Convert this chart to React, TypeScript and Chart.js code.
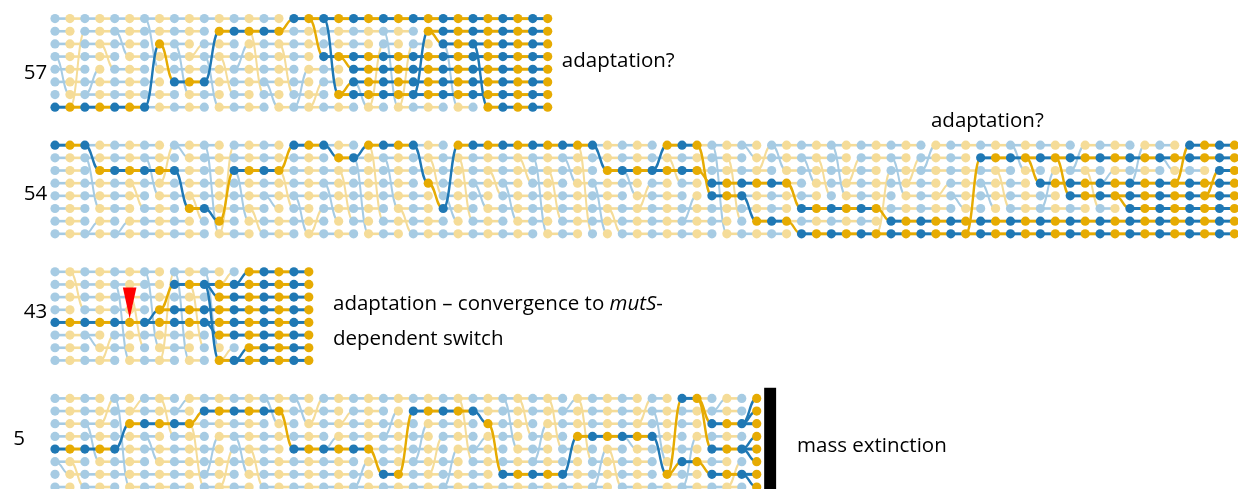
import { useEffect, useRef } from "react";
import { Chart, registerables } from "chart.js";

Chart.register(...registerables);

// ---------------- data ----------------
// Panels from top to bottom. Each panel: 8 individuals (rows) over successive generations (columns).
const panelLabels = ["57", "54", "43", "5"];
const panelColumns = [34, 80, 18, 48];

// dark (surviving) lineage runs: [row, firstCol, lastCol]
// dark lineage jumps: [col, parentRow (in col-1), childRow]
// faded lineage jumps: [col, parentRow, childRow]
const darkRuns57 = [[7, 0, 6], [2, 7, 7], [5, 8, 10], [1, 11, 15], [0, 16, 33], [3, 18, 33], [6, 19, 33], [4, 20, 33], [5, 20, 33], [1, 25, 33], [2, 26, 33], [7, 29, 33]];
const darkJumps57 = [[7, 7, 2], [8, 2, 5], [11, 5, 1], [16, 1, 0], [18, 0, 3], [19, 0, 6], [20, 3, 4], [20, 6, 5], [25, 6, 1], [26, 1, 2], [29, 2, 7]];
const lightJumps57 = [[1, 3, 6], [2, 7, 1], [3, 6, 4], [4, 2, 4], [5, 1, 3], [6, 2, 7], [7, 0, 4], [9, 2, 6], [10, 3, 2], [11, 3, 7], [12, 3, 6], [13, 4, 2], [14, 1, 6], [15, 5, 7], [16, 2, 6], [17, 7, 4], [18, 7, 5], [21, 5, 7], [22, 7, 2], [23, 1, 7], [24, 7, 2], [27, 2, 7]];

const darkRuns54 = [[0, 0, 2], [2, 3, 8], [5, 9, 10], [6, 11, 11], [2, 12, 15], [0, 16, 18], [1, 19, 20], [0, 21, 24], [3, 25, 25], [5, 26, 26], [0, 27, 36], [2, 37, 43], [0, 41, 43], [3, 44, 49], [4, 44, 46], [6, 47, 49], [5, 50, 55], [7, 50, 79], [6, 56, 79], [1, 62, 79], [3, 66, 79], [4, 68, 79], [5, 72, 79], [0, 76, 79], [2, 78, 79]];
const darkJumps54 = [[3, 0, 2], [9, 2, 5], [11, 5, 6], [12, 6, 2], [16, 2, 0], [19, 0, 1], [21, 1, 0], [25, 0, 3], [26, 3, 5], [27, 5, 0], [37, 0, 2], [41, 2, 0], [44, 2, 3], [44, 0, 4], [47, 4, 6], [50, 3, 5], [50, 6, 7], [56, 5, 6], [62, 7, 1], [66, 1, 3], [68, 1, 4], [72, 4, 5], [76, 3, 0], [78, 4, 2]];
const lightJumps54 = [[3, 1, 5], [3, 7, 6], [5, 7, 6], [6, 3, 5], [7, 1, 4], [8, 3, 0], [9, 0, 1], [10, 4, 6], [11, 0, 7], [12, 7, 0], [13, 2, 6], [14, 5, 7], [15, 4, 5], [16, 2, 5], [17, 4, 7], [18, 7, 5], [19, 3, 6], [20, 2, 6], [21, 1, 7], [22, 0, 6], [23, 1, 5], [24, 5, 7], [26, 1, 4], [27, 4, 6], [28, 1, 6], [29, 3, 5], [30, 2, 4], [31, 3, 6], [32, 1, 3], [33, 1, 7], [34, 2, 6], [35, 1, 3], [36, 0, 7], [37, 3, 7], [38, 5, 7], [39, 2, 4], [40, 5, 3], [42, 1, 3], [43, 6, 4], [45, 0, 7], [46, 1, 6], [47, 0, 1], [48, 2, 0], [49, 0, 2], [51, 1, 3], [52, 1, 4], [53, 0, 4], [54, 3, 1], [55, 2, 5], [56, 7, 2], [57, 1, 4], [58, 3, 1], [59, 2, 0], [60, 4, 3], [61, 4, 5], [63, 3, 5], [64, 2, 5], [65, 0, 2], [67, 5, 2], [69, 2, 0], [70, 2, 5], [71, 3, 2], [73, 3, 0], [75, 1, 2]];

const darkRuns43 = [[4, 0, 17], [3, 7, 17], [1, 8, 17], [2, 11, 17], [5, 11, 17], [7, 11, 17], [0, 13, 17], [6, 13, 17]];
const darkJumps43 = [[7, 4, 3], [8, 3, 1], [11, 1, 2], [11, 4, 5], [11, 1, 7], [13, 1, 0], [13, 7, 6]];
const lightJumps43 = [[2, 0, 3], [3, 5, 6], [4, 7, 5], [5, 1, 7], [6, 2, 6], [7, 0, 6], [8, 7, 0], [9, 0, 7], [10, 1, 6], [11, 0, 6], [12, 1, 0], [12, 7, 6]];

const darkRuns5 = [[4, 0, 4], [2, 5, 9], [1, 10, 15], [4, 16, 21], [6, 22, 23], [1, 24, 28], [2, 29, 29], [6, 30, 34], [3, 35, 40], [6, 41, 41], [0, 42, 43], [5, 42, 43], [2, 44, 47], [4, 44, 47], [6, 44, 47], [0, 47, 47], [1, 47, 47], [3, 47, 47], [5, 47, 47], [7, 47, 47]];
const darkJumps5 = [[5, 4, 2], [10, 2, 1], [16, 1, 4], [22, 4, 6], [24, 6, 1], [29, 1, 2], [30, 2, 6], [35, 6, 3], [41, 3, 6], [42, 6, 0], [42, 6, 5], [44, 0, 2], [44, 0, 4], [44, 5, 6], [47, 2, 0], [47, 2, 1], [47, 4, 3], [47, 4, 5], [47, 6, 7]];
const lightJumps5 = [[1, 5, 6], [2, 5, 7], [3, 2, 5], [4, 2, 0], [5, 0, 7], [6, 1, 0], [7, 3, 5], [8, 0, 3], [9, 1, 0], [10, 2, 7], [11, 6, 3], [12, 7, 4], [13, 3, 6], [14, 4, 7], [15, 0, 2], [17, 0, 2], [18, 2, 0], [19, 4, 3], [20, 2, 1], [21, 7, 5], [23, 3, 1], [25, 5, 2], [26, 6, 3], [27, 7, 4], [28, 0, 5], [29, 4, 3], [31, 0, 4], [32, 0, 3], [33, 5, 2], [34, 0, 4], [35, 1, 0], [36, 0, 5], [37, 7, 4], [38, 4, 7], [39, 3, 4], [40, 2, 0], [41, 1, 5], [43, 7, 3], [45, 1, 0], [46, 7, 5]];

// mutation marker (panel 43): [col, row]
const mutationMarker43 = [5, 4];

// annotations
const noteAdaptation = "adaptation?";
const noteConvergenceA = "adaptation – convergence to ";
const noteConvergenceGene = "mutS";
const noteConvergenceB = "-";
const noteConvergence2 = "dependent switch";
const noteExtinction = "mass extinction";

// ---------------- layout / style ----------------
const W = 1238;
const H = 489;
const COL_PX = 14.93;
const ROW_PX = 12.66;
const X0 = 55;
const Y0 = 18.6;
const ROWS = 8;
const PANEL_STEP = 10;
const TEXT_DY = 2.5;

const DARK_BLUE = "#1f78b4";
const DARK_YELLOW = "#e6ab02";
const LIGHT_BLUE = "#a6cbe3";
const LIGHT_YELLOW = "#f5dc98";
const FONT = '"Open Sans", "Noto Sans", sans-serif';
const FS = 20.5;

const panels = [
  { runs: darkRuns57, jumps: darkJumps57, light: lightJumps57 },
  { runs: darkRuns54, jumps: darkJumps54, light: lightJumps54 },
  { runs: darkRuns43, jumps: darkJumps43, light: lightJumps43 },
  { runs: darkRuns5, jumps: darkJumps5, light: lightJumps5 },
];

type Edge = { x1: number; y1: number; x2: number; y2: number; color: string };

function build() {
  const pts = { db: [] as any[], dy: [] as any[], lb: [] as any[], ly: [] as any[] };
  const darkEdges: Edge[] = [];
  const lightEdges: Edge[] = [];
  panels.forEach((panel, p) => {
    const base = p * PANEL_STEP;
    const cols = panelColumns[p];
    const key = (c: number, r: number) => c + "," + r;
    const dark = new Set<string>();
    panel.runs.forEach(([r, a, b]) => {
      for (let c = a; c <= b; c++) dark.add(key(c, r));
    });
    const darkParent = new Map<string, number>();
    panel.jumps.forEach(([c, pr, cr]) => {
      darkParent.set(key(c, cr), pr);
      dark.add(key(c, cr));
    });
    const lightParent = new Map<string, number>();
    panel.light.forEach(([c, pr, cr]) => {
      if (!dark.has(key(c, cr))) lightParent.set(key(c, cr), pr);
    });
    for (let c = 0; c < cols; c++) {
      const blue = c % 2 === 0;
      for (let r = 0; r < ROWS; r++) {
        const k = key(c, r);
        const isDark = dark.has(k);
        const pt = { x: c, y: base + r };
        if (isDark) (blue ? pts.db : pts.dy).push(pt);
        else (blue ? pts.lb : pts.ly).push(pt);
        if (c === 0) continue;
        const parentBlue = (c - 1) % 2 === 0;
        if (isDark) {
          let pr: number | null = null;
          if (darkParent.has(k)) pr = darkParent.get(k)!;
          else if (dark.has(key(c - 1, r))) pr = r;
          if (pr !== null)
            darkEdges.push({ x1: c - 1, y1: base + pr, x2: c, y2: base + r, color: parentBlue ? DARK_BLUE : DARK_YELLOW });
        } else {
          const pr = lightParent.has(k) ? lightParent.get(k)! : r;
          lightEdges.push({ x1: c - 1, y1: base + pr, x2: c, y2: base + r, color: parentBlue ? LIGHT_BLUE : LIGHT_YELLOW });
        }
      }
    }
  });
  return { pts, darkEdges, lightEdges };
}

function drawEdges(chart: any, list: Edge[], dashW: number, curveW: number) {
  const { ctx } = chart;
  const xs = chart.scales.x;
  const ys = chart.scales.y;
  ctx.save();
  ctx.lineCap = "butt";
  for (const e of list) {
    const x1 = xs.getPixelForValue(e.x1);
    const x2 = xs.getPixelForValue(e.x2);
    const y1 = ys.getPixelForValue(e.y1);
    const y2 = ys.getPixelForValue(e.y2);
    ctx.strokeStyle = e.color;
    ctx.beginPath();
    ctx.moveTo(x1, y1);
    if (e.y1 === e.y2) {
      ctx.lineWidth = dashW;
      ctx.lineTo(x2, y2);
    } else {
      ctx.lineWidth = curveW;
      const xm = (x1 + x2) / 2;
      ctx.bezierCurveTo(xm, y1, xm, y2, x2, y2);
    }
    ctx.stroke();
  }
  ctx.restore();
}

export default function App() {
  const ref = useRef<HTMLCanvasElement | null>(null);
  useEffect(() => {
    if (!ref.current) return;
    const { pts, darkEdges, lightEdges } = build();

    const overlay = {
      id: "genealogy",
      beforeDatasetDraw(chart: any, args: any) {
        if (args.index === 3) drawEdges(chart, lightEdges, 2.6, 2);
        if (args.index === 1) drawEdges(chart, darkEdges, 3, 2.4);
      },
      afterDatasetsDraw(chart: any) {
        const { ctx } = chart;
        const xs = chart.scales.x;
        const ys = chart.scales.y;
        const X = (v: number) => xs.getPixelForValue(v);
        const Y = (v: number) => ys.getPixelForValue(v) + TEXT_DY;
        ctx.save();
        // panel labels
        ctx.fillStyle = "#000";
        ctx.font = `${FS}px ${FONT}`;
        ctx.textBaseline = "middle";
        ctx.textAlign = "center";
        const labelX = [-1.3, -1.3, -1.3, -2.4];
        const labelY = [4.1, 3.7, 3.0, 3.0];
        panelLabels.forEach((t, p) => ctx.fillText(t, X(labelX[p]), Y(p * PANEL_STEP + labelY[p])));
        // notes
        ctx.textAlign = "left";
        ctx.fillText(noteAdaptation, X(33.95), Y(3.2));
        ctx.fillText(noteAdaptation, X(58.67), Y(PANEL_STEP - 2.1));
        let cx = X(18.62);
        const cy = Y(2 * PANEL_STEP + 2.35);
        ctx.fillText(noteConvergenceA, cx, cy);
        cx += ctx.measureText(noteConvergenceA).width;
        ctx.font = `italic ${FS}px ${FONT}`;
        ctx.fillText(noteConvergenceGene, cx, cy);
        cx += ctx.measureText(noteConvergenceGene).width;
        ctx.font = `${FS}px ${FONT}`;
        ctx.fillText(noteConvergenceB, cx, cy);
        ctx.fillText(noteConvergence2, X(18.62), Y(2 * PANEL_STEP + 5.1));
        ctx.fillText(noteExtinction, X(49.7), Y(3 * PANEL_STEP + 3.55));
        // mutation marker
        const mx = X(mutationMarker43[0]);
        const my = ys.getPixelForValue(2 * PANEL_STEP + mutationMarker43[1]) - 4;
        ctx.fillStyle = "#ff0000";
        ctx.beginPath();
        ctx.moveTo(mx, my);
        ctx.lineTo(mx - 6.8, my - 31);
        ctx.lineTo(mx + 6.8, my - 31);
        ctx.closePath();
        ctx.fill();
        // extinction bar
        const bx1 = X(panelColumns[3] - 0.5);
        const bx2 = X(panelColumns[3] + 0.3);
        const by = ys.getPixelForValue(3 * PANEL_STEP - 0.84);
        ctx.fillStyle = "#000";
        ctx.fillRect(bx1, by, bx2 - bx1, chart.height - by);
        ctx.restore();
      },
    };

    const ds = (data: any[], color: string) => ({
      data,
      backgroundColor: color,
      borderWidth: 0,
      pointRadius: 4.6,
      pointHoverRadius: 4.6,
      pointBorderWidth: 0,
      clip: false as any,
    });

    const chart = new Chart(ref.current, {
      type: "scatter",
      data: {
        datasets: [
          ds(pts.dy, DARK_YELLOW),
          ds(pts.db, DARK_BLUE),
          ds(pts.ly, LIGHT_YELLOW),
          ds(pts.lb, LIGHT_BLUE),
        ],
      },
      options: {
        animation: false,
        responsive: false,
        devicePixelRatio: 1,
        events: [],
        layout: { padding: 0, autoPadding: false },
        plugins: { legend: { display: false }, tooltip: { enabled: false } },
        scales: {
          x: { type: "linear", display: false, min: -X0 / COL_PX, max: (W - X0) / COL_PX },
          y: { type: "linear", display: false, reverse: true, min: -Y0 / ROW_PX, max: (H - Y0) / ROW_PX },
        },
      },
      plugins: [overlay],
    });
    return () => chart.destroy();
  }, []);

  return (
    <div style={{ position: "absolute", left: 0, top: 0, width: W, height: H, background: "#fff" }}>
      <canvas ref={ref} width={W} height={H} style={{ display: "block" }} />
    </div>
  );
}
